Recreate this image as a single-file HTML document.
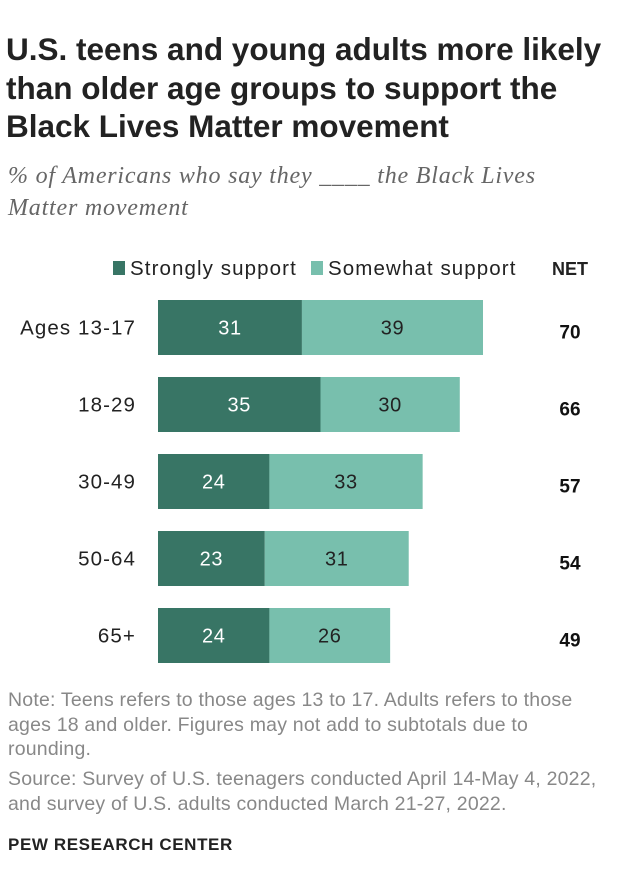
<!DOCTYPE html>
<html><head><meta charset="utf-8"><style>
body{margin:0;width:620px;height:894px;background:#fff;font-family:"Liberation Sans",sans-serif;position:relative;overflow:hidden}
.t{position:absolute;left:6px;top:30px;font-size:31.5px;font-weight:bold;line-height:38.5px;color:#222;width:614px;white-space:nowrap}
.s{position:absolute;left:8px;top:160px;font-family:"Liberation Serif",serif;font-style:italic;font-size:24px;letter-spacing:0.8px;line-height:32px;color:#666;white-space:nowrap}
.n{position:absolute;left:8px;font-size:19.5px;letter-spacing:0.2px;line-height:24.5px;color:#888;white-space:nowrap}
.f{position:absolute;left:8px;top:835px;font-size:17px;letter-spacing:0.6px;font-weight:bold;color:#222}
</style></head><body>
<div class="t">U.S. teens and young adults more likely<br>than older age groups to support the<br>Black Lives Matter movement</div>
<div class="s">% of Americans who say they ____ the Black Lives<br>Matter movement</div>
<svg id="c" width="620" height="894" style="position:absolute;left:0;top:0"></svg>
<div class="n" style="top:688px">Note: Teens refers to those ages 13 to 17. Adults refers to those<br>ages 18 and older. Figures may not add to subtotals due to<br>rounding.</div>
<div class="n" style="top:767px">Source: Survey of U.S. teenagers conducted April 14-May 4, 2022,<br>and survey of U.S. adults conducted March 21-27, 2022.</div>
<div class="f">PEW RESEARCH CENTER</div>
<script>
const categories=["Ages 13-17","18-29","30-49","50-64","65+"];
const strongly=[31,35,24,23,24];
const somewhat=[39,30,33,31,26];
const net=[70,66,57,54,49];
const NS="http://www.w3.org/2000/svg";
const svg=document.getElementById('c');
const x0=158,k=325/70,y0=300,step=77,bh=55;
const xs=v=>v*k;
const yb=i=>y0+i*step;
function mk(t,a,txt){const e=document.createElementNS(NS,t);for(const p in a)e.setAttribute(p,a[p]);if(txt!=null)e.textContent=txt;svg.appendChild(e);return e;}
let e=mk('rect',{x:113,y:261,width:12,height:14,fill:'#387565'});


e=mk('text',{x:130,y:275,'font-size':20.5,'letter-spacing':1.1,fill:'#222'},'Strongly support');


e=mk('rect',{x:311,y:261,width:12,height:14,fill:'#78bfad'});


e=mk('text',{x:328,y:275,'font-size':20.5,'letter-spacing':1.1,fill:'#222'},'Somewhat support');


e=mk('text',{x:570,y:275,'font-size':18,'font-weight':'bold','text-anchor':'middle',fill:'#222'},'NET');


categories.forEach((c,i)=>{
  const y=yb(i),w1=xs(strongly[i]),w2=xs(somewhat[i]),cy=y+bh/2+7;
  e=mk('text',{x:136,y:cy,'font-size':20.5,'letter-spacing':1.1,'text-anchor':'end',fill:'#222'},c);
  
  
  e=mk('rect',{x:x0,y:y,width:w1,height:bh,fill:'#387565'});
  
  
  e=mk('rect',{x:x0+w1,y:y,width:w2,height:bh,fill:'#78bfad'});
  
  
  e=mk('text',{x:x0+w1/2,y:cy,'font-size':20,'letter-spacing':0.6,'text-anchor':'middle',fill:'#fff'},strongly[i]);
  
  
  e=mk('text',{x:x0+w1+w2/2,y:cy,'font-size':20,'letter-spacing':0.6,'text-anchor':'middle',fill:'#222'},somewhat[i]);
  
  
  e=mk('text',{x:570,y:cy+4,'font-size':19,'font-weight':'bold','text-anchor':'middle',fill:'#111'},net[i]);
  
  
});
</script>
</body></html>
